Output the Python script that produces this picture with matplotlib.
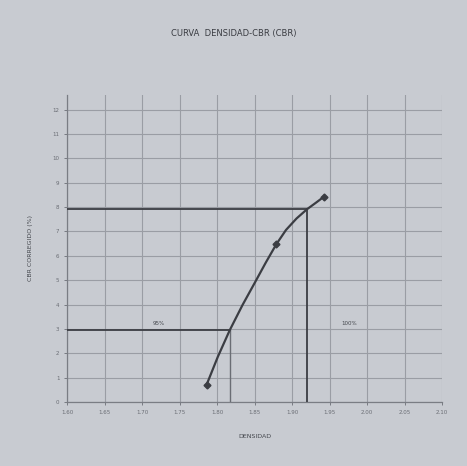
import numpy as np
import matplotlib
matplotlib.use('Agg')
import matplotlib.pyplot as plt

# Values (density in g/cm3, CBR in %)
dens_ticks = [1.60, 1.65, 1.70, 1.75, 1.80, 1.85, 1.90, 1.95, 2.00, 2.05, 2.10]
cbr_ticks = [0, 1, 2, 3, 4, 5, 6, 7, 8, 9, 10, 11, 12]

# measured points
dens_pts = [1.786, 1.879, 1.942]
cbr_pts = [0.70, 6.47, 8.41]

# smooth curve as traced on the sheet
curve_dens = [1.786, 1.801, 1.817, 1.834, 1.851, 1.865, 1.879, 1.892, 1.906, 1.920, 1.932, 1.942]
curve_cbr = [0.70, 1.85, 2.95, 3.98, 4.93, 5.72, 6.47, 7.06, 7.53, 7.91, 8.18, 8.41]

# reference lines at 100% and 95% of max dry density
mdd = 1.920
cbr_100 = 7.91
dens_95 = 1.817
cbr_95 = 2.95

bg = '#c8cbd1'
ink = '#3b3d43'
grid_c = '#9a9da4'

fig = plt.figure(figsize=(4.67, 4.66), dpi=100, facecolor=bg)
ax = fig.add_axes([0.1435, 0.1373, 0.803, 0.659], facecolor=bg)

ax.set_xlim(1.60, 2.10)
ax.set_ylim(0, 12.6)
ax.set_xticks(dens_ticks)
ax.set_yticks(cbr_ticks)
ax.set_xticklabels([f'{v:.2f}' for v in dens_ticks])
ax.set_yticklabels([str(v) for v in cbr_ticks])
ax.tick_params(labelsize=4, colors='#6a6d74', length=2, width=0.6)
ax.grid(True, color=grid_c, linewidth=0.8)

for s in ['top', 'right']:
    ax.spines[s].set_visible(False)
for s in ['left', 'bottom']:
    ax.spines[s].set_color('#7a7d84')
    ax.spines[s].set_linewidth(0.9)

ax.plot(curve_dens, curve_cbr, color=ink, linewidth=1.6, zorder=4)
ax.plot(dens_pts, cbr_pts, 'D', color=ink, markersize=3.5, zorder=5)

# 100% lines
ax.plot([1.60, mdd], [cbr_100, cbr_100], color=ink, linewidth=1.3, zorder=3)
ax.plot([mdd, mdd], [0, cbr_100], color=ink, linewidth=1.3, zorder=3)
# 95% lines
ax.plot([1.60, dens_95], [cbr_95, cbr_95], color=ink, linewidth=1.3, zorder=3)
ax.plot([dens_95, dens_95], [0, cbr_95], color='#6a6d74', linewidth=1.0, zorder=3)

ax.text(1.722, cbr_95 + 0.18, '95%', fontsize=4, color='#44474d', ha='center', va='bottom')
ax.text(1.976, cbr_95 + 0.18, '100%', fontsize=4, color='#44474d', ha='center', va='bottom')

fig.text(0.50, 0.928, 'CURVA  DENSIDAD-CBR (CBR)', fontsize=6, color='#3a3c42',
         ha='center', va='center')
ax.set_xlabel('DENSIDAD', fontsize=4.5, color='#44474d', labelpad=14)
ax.set_ylabel('CBR CORREGIDO (%)', fontsize=4.5, color='#44474d', labelpad=14)

fig.savefig('out.png', dpi=100, facecolor=bg)
